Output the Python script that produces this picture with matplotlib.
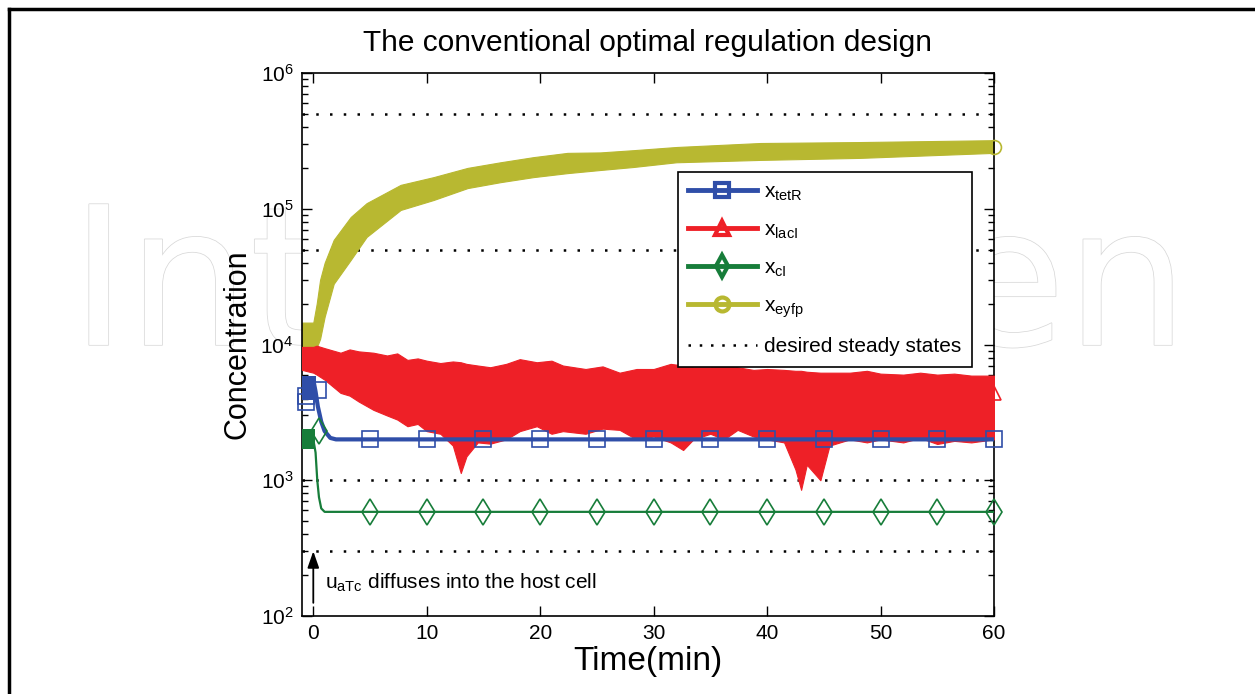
import matplotlib
matplotlib.use("Agg")
import matplotlib.pyplot as plt
import matplotlib.patheffects as pe
from matplotlib.lines import Line2D
from matplotlib.ticker import LogLocator, NullFormatter

plt.rcParams['font.family'] = ['Liberation Sans', 'DejaVu Sans']
plt.rcParams['mathtext.fontset'] = 'custom'
plt.rcParams['mathtext.rm'] = 'Liberation Sans'
plt.rcParams['mathtext.it'] = 'Liberation Sans'

# ---------------- data ----------------
title = "The conventional optimal regulation design"
xticks = [0, 10, 20, 30, 40, 50, 60]
desired_levels = [5e5, 5e4, 1e3, 3e2]

# x_eyfp ensemble envelope
t_eyfp = [-1, 0, 0.3, 0.6, 1.0, 1.8, 3.3, 4.7, 7.7, 10.6, 13.6, 16.5, 19.4,
          22.4, 25.3, 28.2, 32, 39.4, 48.2, 60]
eyfp_hi = [1.45e4, 1.45e4, 2.0e4, 3.0e4, 4.0e4, 5.9e4, 8.7e4, 1.1e5, 1.5e5,
           1.71e5, 2.0e5, 2.2e5, 2.4e5, 2.58e5, 2.6e5, 2.7e5, 2.85e5,
           3.05e5, 3.1e5, 3.2e5]
eyfp_lo = [0.9e4, 0.9e4, 0.95e4, 1.1e4, 1.6e4, 2.8e4, 4.2e4, 6.2e4, 9.8e4,
           1.16e5, 1.42e5, 1.57e5, 1.71e5, 1.83e5, 1.93e5, 2.03e5, 2.2e5,
           2.29e5, 2.37e5, 2.58e5]
eyfp_end = 2.85e5

# x_lacI ensemble envelope
t_laci = [-1, 0, 0.3, 1.0, 2.4, 3.2, 4, 5.3, 6.5, 7.4, 8.3, 9.2, 10, 11.2,
          12.3, 13.0, 13.5, 14.5, 15.6, 17, 18.2, 19.7, 21, 22, 24, 25.5, 27,
          28.5, 30, 31.5, 32.6, 33.5, 35, 36.2, 37.4, 38.8, 40, 41.5, 42.5,
          43, 43.5, 44.7, 45.5, 47.3, 48.8, 50, 52, 53.5, 55, 56.5, 58, 60]
laci_hi = [9.6e3, 9.6e3, 9.8e3, 9.4e3, 8.7e3, 9.2e3, 8.9e3, 8.7e3, 8.3e3,
           8.6e3, 7.7e3, 7.9e3, 7.6e3, 7.3e3, 7.5e3, 7.4e3, 7.2e3, 7.0e3,
           6.8e3, 7.2e3, 7.8e3, 7.4e3, 7.6e3, 7.0e3, 6.6e3, 6.9e3, 6.2e3,
           6.6e3, 6.6e3, 7.2e3, 7.0e3, 6.8e3, 6.8e3, 7.1e3, 6.8e3, 6.5e3,
           6.6e3, 6.5e3, 6.4e3, 6.4e3, 6.3e3, 6.2e3, 6.2e3, 6.2e3, 6.4e3,
           6.1e3, 6.0e3, 6.2e3, 6.0e3, 6.1e3, 5.9e3, 5.9e3]
laci_lo = [6.5e3, 6.2e3, 6.0e3, 5.5e3, 4.4e3, 4.2e3, 3.8e3, 3.3e3, 3.0e3,
           2.8e3, 2.5e3, 2.6e3, 2.3e3, 2.2e3, 1.8e3, 1.13e3, 1.5e3, 1.9e3,
           1.86e3, 2.0e3, 2.3e3, 2.5e3, 2.2e3, 2.3e3, 2.2e3, 2.4e3, 2.35e3,
           2.0e3, 2.1e3, 1.9e3, 1.67e3, 2.0e3, 2.2e3, 2.0e3, 2.35e3, 2.1e3,
           2.0e3, 1.9e3, 1.2e3, 850, 1.3e3, 1.0e3, 1.8e3, 2.0e3, 1.9e3,
           2.0e3, 1.9e3, 2.05e3, 1.85e3, 1.95e3, 1.9e3, 2.0e3]
laci_end = 4.4e3

# x_tetR
t_tetr = [-1, 0, 0.2, 0.4, 0.7, 1.0, 1.5, 2.0, 60]
tetr = [5.5e3, 5.5e3, 4.5e3, 3.5e3, 2.7e3, 2.3e3, 2.05e3, 2.0e3, 2.0e3]
tetr_init = (3.9e3, 5.9e3)
t_tetr_mark = [0.4, -0.6, -0.6, 5, 10, 15, 20, 25, 30, 35, 40, 45, 50, 55, 60]
tetr_mark = [4.6e3, 4.2e3, 3.8e3] + [2.0e3] * 12

# x_cI
t_ci = [-1, 0, 0.2, 0.35, 0.5, 0.7, 1.0, 60]
ci = [2.0e3, 2.0e3, 1.6e3, 1.0e3, 750, 620, 585, 585]
ci_init = (1.7e3, 2.4e3)
t_ci_mark = [0.5, 5, 10, 15, 20, 25, 30, 35, 40, 45, 50, 55, 60]
ci_mark = [2.3e3] + [585] * 12

legend_labels = [r'$\mathregular{x_{tetR}}$', r'$\mathregular{x_{lacI}}$',
                 r'$\mathregular{x_{cI}}$', r'$\mathregular{x_{eyfp}}$',
                 'desired steady states']

# ---------------- styling ----------------
c_blue = '#2f4ea8'
c_red = '#ee2027'
c_green = '#177d3a'
c_yellow = '#b8b831'

fig = plt.figure(figsize=(12.55, 6.94), dpi=100)

# watermark
fig.text(0.056, 0.503, 'IntechOpen', fontsize=139, family='DejaVu Sans',
         color='white', ha='left', va='baseline', zorder=0,
         path_effects=[pe.withStroke(linewidth=1.1, foreground='#d8d8d8')])

# figure frame (top and left)
fig.add_artist(Line2D([0.0072, 0.0072], [0.0, 0.987], color='black', lw=2.5,
                      transform=fig.transFigure))
fig.add_artist(Line2D([0.0072, 1.0], [0.987, 0.987], color='black', lw=2.5,
                      transform=fig.transFigure))

ax = fig.add_axes([0.2406, 0.1124, 0.5514, 0.7824])
ax.set_facecolor('white')
ax.set_zorder(2)
ax.set_yscale('log')
ax.set_xlim(-1, 60)
ax.set_ylim(1e2, 1e6)

# bands
ax.fill_between(t_eyfp, eyfp_lo, eyfp_hi, color=c_yellow, lw=0.8,
                edgecolor=c_yellow, zorder=2)
ax.fill_between(t_laci, laci_lo, laci_hi, color=c_red, lw=0.8,
                edgecolor=c_red, zorder=3)
ax.plot([60], [eyfp_end], marker='o', ms=10, mfc='none', mec=c_yellow,
        mew=1.2, ls='none', zorder=4, clip_on=False)
ax.plot([60], [laci_end], marker='^', ms=10, mfc='none', mec=c_red,
        mew=1.2, ls='none', zorder=4, clip_on=False)

# tetR
ax.fill_between([-1, 0.25], [tetr_init[0]] * 2, [tetr_init[1]] * 2,
                color=c_blue, lw=0, zorder=4)
ax.plot(t_tetr, tetr, color=c_blue, lw=3, zorder=5)
ax.plot(t_tetr_mark, tetr_mark, marker='s', ms=12, mfc='none', mec=c_blue,
        mew=1.2, ls='none', zorder=5, clip_on=False)

# cI
ax.fill_between([-1, 0.15], [ci_init[0]] * 2, [ci_init[1]] * 2,
                color=c_green, lw=0, zorder=4)
ax.plot(t_ci, ci, color=c_green, lw=1.6, zorder=5)
ax.plot(t_ci_mark, ci_mark, marker='d', ms=13, mfc='none', mec=c_green,
        mew=1.2, ls='none', zorder=5, clip_on=False)

# desired steady states
for lv in desired_levels:
    ax.axhline(lv, color='black', ls=(0, (1, 4.5)), lw=1.8, zorder=1)

# annotation arrow
ax.annotate('', xy=(0, 300), xytext=(0, 125),
            arrowprops=dict(arrowstyle='-|>,head_length=1.0,head_width=0.35',
                            color='black', lw=1.3, shrinkA=0, shrinkB=0),
            zorder=6)
ax.text(1.0, 175, r'$\mathregular{u_{aTc}}$ diffuses into the host cell',
        fontsize=15, ha='left', va='center', zorder=6)

# axes, ticks
ax.set_xticks(xticks)
ax.set_yticks([1e2, 1e3, 1e4, 1e5, 1e6])
ax.set_yticklabels([r'$\mathregular{10^{%d}}$' % k for k in range(2, 7)])
ax.yaxis.set_minor_locator(LogLocator(base=10, subs=range(2, 10), numticks=20))
ax.yaxis.set_minor_formatter(NullFormatter())
ax.tick_params(axis='both', which='both', direction='in', top=True, right=True,
               width=1.0, colors='black')
ax.tick_params(axis='x', which='major', labelsize=15)
ax.tick_params(axis='y', which='major', labelsize=15)
ax.tick_params(axis='both', which='major', length=7, pad=6)
ax.tick_params(axis='y', which='minor', length=4)
for sp in ax.spines.values():
    sp.set_linewidth(1.2)

ax.set_title(title, fontsize=21.5, pad=16)
ax.set_xlabel('Time(min)', fontsize=24, labelpad=2)
ax.set_ylabel('Concentration', fontsize=22, labelpad=6)

# legend
handles = [
    Line2D([], [], color=c_blue, lw=3.5, marker='s', ms=10, mfc='none',
           mec=c_blue, mew=3),
    Line2D([], [], color=c_red, lw=3.5, marker='^', ms=10, mfc='none',
           mec=c_red, mew=3),
    Line2D([], [], color=c_green, lw=3.5, marker='d', ms=11, mfc='none',
           mec=c_green, mew=3),
    Line2D([], [], color=c_yellow, lw=3.5, marker='o', ms=10, mfc='none',
           mec=c_yellow, mew=3),
    Line2D([], [], color='black', ls=(0, (1, 3.5)), lw=1.8),
]
leg = ax.legend(handles, legend_labels, loc='upper right',
                bbox_to_anchor=(0.968, 0.818), fontsize=15,
                frameon=True, fancybox=False, edgecolor='black',
                framealpha=1, handlelength=3.3, labelspacing=0.85,
                borderpad=0.5, handletextpad=0.35, borderaxespad=0)
leg.get_frame().set_linewidth(1.2)
leg.set_zorder(10)

fig.savefig('out.png', dpi=100, facecolor='white')
